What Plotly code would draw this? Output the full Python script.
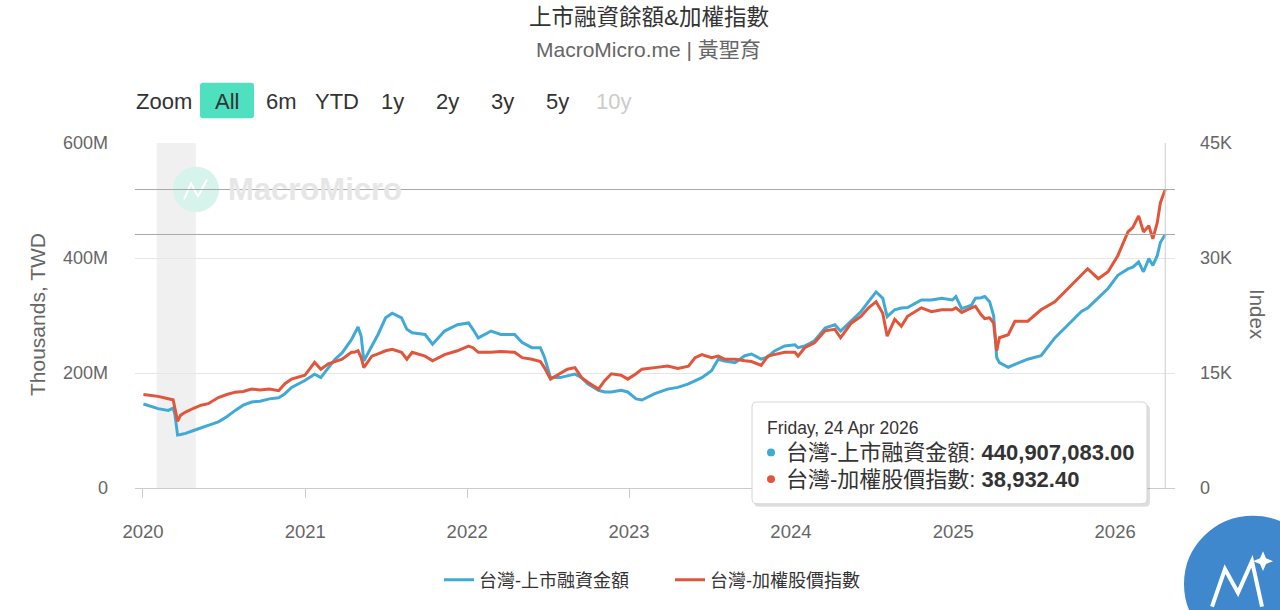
import plotly.graph_objects as go

# ---------------- data ----------------
dates = [
    "2020-01-02", "2020-02-04", "2020-02-27", "2020-03-09", "2020-03-13", "2020-03-19", "2020-03-26",
    "2020-04-06", "2020-04-24", "2020-05-11", "2020-05-27", "2020-06-19", "2020-07-08", "2020-07-27",
    "2020-08-14", "2020-09-02", "2020-09-21", "2020-10-12", "2020-11-02", "2020-11-16", "2020-12-01",
    "2020-12-31",
    "2021-01-22", "2021-02-05", "2021-02-22", "2021-03-09", "2021-03-25", "2021-04-15", "2021-04-21",
    "2021-04-30", "2021-05-07", "2021-05-13", "2021-05-31", "2021-06-14", "2021-07-01", "2021-07-16",
    "2021-08-06", "2021-08-18", "2021-08-30", "2021-09-28", "2021-10-15", "2021-11-11", "2021-12-10",
    "2022-01-04", "2022-01-14", "2022-01-26", "2022-02-24", "2022-03-18", "2022-04-18", "2022-05-05",
    "2022-05-27", "2022-06-15", "2022-06-24", "2022-07-08", "2022-07-29", "2022-08-15", "2022-09-01",
    "2022-09-16", "2022-09-30", "2022-10-24", "2022-11-07", "2022-11-22", "2022-12-14", "2022-12-29",
    "2023-01-17", "2023-01-30", "2023-02-28", "2023-03-29", "2023-04-21", "2023-05-15", "2023-05-30",
    "2023-06-14", "2023-07-06", "2023-07-21", "2023-08-04", "2023-08-28", "2023-09-19", "2023-10-04",
    "2023-10-26", "2023-11-10", "2023-11-24", "2023-12-18",
    "2024-01-10", "2024-01-17", "2024-02-01", "2024-02-23", "2024-03-18", "2024-04-09", "2024-04-22",
    "2024-05-16", "2024-06-07", "2024-06-24", "2024-07-11", "2024-07-26", "2024-08-05", "2024-08-22",
    "2024-09-06", "2024-09-20", "2024-10-21", "2024-11-13", "2024-12-06", "2024-12-30",
    "2025-01-07", "2025-01-20", "2025-02-11", "2025-02-20", "2025-03-05", "2025-03-13", "2025-03-24",
    "2025-04-02", "2025-04-09", "2025-04-15", "2025-05-05", "2025-05-20", "2025-06-18", "2025-07-18",
    "2025-08-18", "2025-09-17", "2025-10-17", "2025-10-31", "2025-11-24", "2025-12-16",
    "2026-01-07", "2026-01-30", "2026-02-10", "2026-02-23", "2026-03-06", "2026-03-18", "2026-03-27",
    "2026-04-06", "2026-04-13", "2026-04-24",
]

# 台灣-上市融資金額, in millions (of thousand TWD)
margin_millions = [
    146, 138, 135, 139, 128, 92, 93, 95, 100, 104, 109, 115, 124, 135, 144, 149.5, 151, 155, 157, 164, 175, 187,
    198, 192, 210, 224, 235, 258, 267, 280, 264, 221, 247, 267, 296, 304, 296, 276, 270, 267, 250, 273, 284,
    287, 276, 261, 273, 267, 267, 253, 244, 244, 228, 192, 192, 195, 198, 192, 181, 170, 167, 167, 170, 167,
    155, 153, 164, 172, 175, 181, 187, 192, 204, 224, 221, 218, 230, 233, 224, 228, 238, 247,
    249, 244, 247, 256, 278, 284, 273, 290, 307, 324, 341, 330, 298, 310, 313, 314, 327, 327, 330, 327,
    333, 312, 318, 330, 331, 333, 324, 300, 227, 218, 210, 215, 224, 230, 261, 284, 307, 313, 330, 347,
    370, 381, 384, 393, 376, 399, 387, 404, 427, 440.907083,
]

# 台灣-加權股價指數
taiex = [
    12200, 11950, 11650, 11500, 10400, 8700, 9500, 9900, 10400, 10800, 11000, 11800, 12200, 12500, 12600,
    12900, 12800, 12900, 12700, 13600, 14200, 14700,
    16400, 15500, 16200, 16500, 16800, 17700, 17700, 17900, 17000, 15700, 17200, 17500, 17900, 18100,
    17700, 16800, 17700, 17200, 16600, 17400, 17900,
    18500, 18300, 17700, 17700, 17800, 17700, 17000, 16800, 16500, 15700, 14200, 14900, 15500, 15700,
    14400, 13800, 12900, 14000, 14900, 14700, 14200,
    14900, 15500, 15700, 15900, 15600, 15900, 17000, 17400, 17000, 17200, 16800, 16800, 16600, 16500,
    16000, 17200, 17400, 17700,
    17700, 17200, 18300, 18950, 20500, 20700, 19600, 21500, 22400, 23500, 24300, 22800, 19800, 22000,
    21100, 22400, 23500, 23000, 23250, 23250,
    23500, 22900, 23500, 23700, 22600, 22100, 22200, 21500, 17900, 19600, 20000, 21750, 21750, 23250,
    24300, 26000, 27800, 28600, 27300, 28200,
    30300, 33400, 34000, 35500, 33400, 34200, 32500, 34600, 37200, 38932.40,
]

margin_values = [v * 1e6 for v in margin_millions]

series_names = ["台灣-上市融資金額", "台灣-加權股價指數"]
left_tickvals = [0, 200e6, 400e6, 600e6]
left_ticktext = ["0", "200M", "400M", "600M"]
right_tickvals = [0, 15000, 30000, 45000]
right_ticktext = ["0", "15K", "30K", "45K"]
range_buttons = ["All", "6m", "YTD", "1y", "2y", "3y", "5y", "10y"]
shade_period = ["2020-02-01", "2020-04-29"]
x_range = ["2019-12-14", "2026-05-16"]

BLUE = "#41a9d6"
RED = "#e1553b"
FONT = "Liberation Sans, Arial, Noto Sans CJK TC, sans-serif"

# plot area in pixels
PL, PR, PT, PB = 135, 1175, 143, 492


def px(x):
    return (x - PL) / (PR - PL)


def py(y):
    return (PB - y) / (PB - PT)


def rrect(x0, y0, x1, y1, r):
    pts = [
        ("M", [(x0 + r, y0)]), ("L", [(x1 - r, y0)]), ("Q", [(x1, y0), (x1, y0 + r)]),
        ("L", [(x1, y1 - r)]), ("Q", [(x1, y1), (x1 - r, y1)]), ("L", [(x0 + r, y1)]),
        ("Q", [(x0, y1), (x0, y1 - r)]), ("L", [(x0, y0 + r)]), ("Q", [(x0, y0), (x0 + r, y0)]),
    ]
    s = ""
    for cmd, ps in pts:
        s += cmd + " " + " ".join(f"{px(a):.5f},{py(b):.5f}" for a, b in ps) + " "
    return s + "Z"


fig = go.Figure()
fig.add_trace(go.Scatter(
    x=dates, y=margin_values, name=series_names[0], mode="lines",
    line=dict(color=BLUE, width=3), yaxis="y",
    hovertemplate="%{x|%A, %d %b %Y}<br>" + series_names[0] + ": <b>%{y:,.2f}</b><extra></extra>",
))
fig.add_trace(go.Scatter(
    x=dates, y=taiex, name=series_names[1], mode="lines",
    line=dict(color=RED, width=3), yaxis="y2",
    hovertemplate="%{x|%A, %d %b %Y}<br>" + series_names[1] + ": <b>%{y:,.2f}</b><extra></extra>",
))

shapes = []
# recession shading
shapes.append(dict(type="rect", xref="x", yref="paper", x0=shade_period[0], x1=shade_period[1],
                   y0=0, y1=1, fillcolor="#f0f0f0", line=dict(width=0), layer="below"))
# watermark circle
shapes.append(dict(type="circle", xref="paper", yref="paper", x0=px(173), x1=px(219), y0=py(213), y1=py(167),
                   fillcolor="#d6f3ec", line=dict(width=0), layer="below"))
shapes.append(dict(type="path", xref="paper", yref="paper", layer="below",
                   path=f"M {px(184)},{py(200)} L {px(191)},{py(184)} L {px(198)},{py(197)} L {px(207)},{py(180)}",
                   line=dict(color="#ffffff", width=2)))
# crosshairs
last_date = dates[-1]
shapes.append(dict(type="line", xref="x", yref="paper", x0=last_date, x1=last_date, y0=0, y1=1,
                   line=dict(color="#cccccc", width=1)))
shapes.append(dict(type="line", xref="paper", yref="y", x0=0, x1=1, y0=margin_values[-1], y1=margin_values[-1],
                   line=dict(color="#a8a8a8", width=1)))
shapes.append(dict(type="line", xref="paper", yref="y2", x0=0, x1=1, y0=taiex[-1], y1=taiex[-1],
                   line=dict(color="#a8a8a8", width=1)))
# range selector "All" highlight
shapes.append(dict(type="path", xref="paper", yref="paper", path=rrect(200, 82, 254, 118, 3),
                   fillcolor="#4fe0c0", line=dict(width=0)))
# tooltip box (shadow + box)
shapes.append(dict(type="path", xref="paper", yref="paper", path=rrect(754, 408, 1150, 511, 5),
                   fillcolor="rgba(0,0,0,0.13)", line=dict(width=0)))
shapes.append(dict(type="path", xref="paper", yref="paper", path=rrect(752, 405, 1147, 508, 5),
                   fillcolor="#ffffff", line=dict(color="#d4d4d4", width=1)))
# tooltip bullets
for cy, col in [(456, BLUE), (483, RED)]:
    shapes.append(dict(type="circle", xref="paper", yref="paper", x0=px(767), x1=px(775),
                       y0=py(cy + 4), y1=py(cy - 4), fillcolor=col, line=dict(width=0)))
# bottom-right logo
shapes.append(dict(type="circle", xref="paper", yref="paper", x0=px(1183), x1=px(1323), y0=py(659), y1=py(519),
                   fillcolor="#3f88cd", line=dict(color="#ffffff", width=2)))
shapes.append(dict(type="path", xref="paper", yref="paper",
                   path=(f"M {px(1212)},{py(612)} L {px(1225)},{py(574)} L {px(1238)},{py(598)} "
                         f"L {px(1252)},{py(566)} L {px(1262)},{py(612)}"),
                   line=dict(color="#ffffff", width=4)))
shapes.append(dict(type="path", xref="paper", yref="paper",
                   path=(f"M {px(1263)},{py(556)} L {px(1266)},{py(563)} L {px(1273)},{py(566)} "
                         f"L {px(1266)},{py(569)} L {px(1263)},{py(576)} L {px(1260)},{py(569)} "
                         f"L {px(1253)},{py(566)} L {px(1260)},{py(563)} Z"),
                   fillcolor="#ffffff", line=dict(width=0)))

annotations = []


def ann(text, x, y, size, color="#333333", xanchor="center", **kw):
    annotations.append(dict(text=text, x=px(x), y=py(y), xref="paper", yref="paper", showarrow=False,
                            xanchor=xanchor, yanchor="middle", font=dict(size=size, color=color, family=FONT), **kw))


ann("上市融資餘額&amp;加權指數", 649, 16, 22.5, "#333333")
ann("MacroMicro.me | 黃聖育", 648, 48, 21, "#666666")
ann("Zoom", 134, 101, 22, "#333333", xanchor="left")
btn_x = [227, 281, 337, 392, 447, 502, 557, 613]
for label, bx in zip(range_buttons, btn_x):
    ann(label, bx, 101, 22, "#cccccc" if label == "10y" else "#333333")
ann("<b>MacroMicro</b>", 226, 190, 31, "#e6e6e6", xanchor="left")
ann("Thousands, TWD", 37, 317, 21, "#666666", textangle=-90)
ann("Index", 1258, 316, 20.5, "#666666", textangle=90)
# tooltip text
ann("Friday, 24 Apr 2026", 765, 431, 17.5, "#333333", xanchor="left")
ann(series_names[0] + ": <b>440,907,083.00</b>", 784, 456, 22, "#333333", xanchor="left")
ann(series_names[1] + ": <b>38,932.40</b>", 784, 483, 22, "#333333", xanchor="left")

fig.update_layout(
    width=1280, height=610, autosize=False,
    margin=dict(l=PL, r=1280 - PR, t=PT, b=610 - PB, pad=0),
    paper_bgcolor="#ffffff", plot_bgcolor="#ffffff",
    font=dict(family=FONT, color="#666666", size=18),
    showlegend=True,
    legend=dict(orientation="h", x=px(439), xanchor="left", y=py(585), yanchor="middle",
                font=dict(size=18, color="#333333", family=FONT), itemwidth=30, entrywidth=186,
                bgcolor="rgba(0,0,0,0)"),
    hovermode="x unified",
    xaxis=dict(type="date", range=x_range, showgrid=False, showline=True, linecolor="#cccccc", linewidth=1,
               ticks="outside", ticklen=9, tickcolor="#cccccc", tickwidth=1,
               dtick="M12", tick0="2020-01-01", tickformat="%Y", ticklabelstandoff=18,
               tickfont=dict(size=18.5, color="#666666"), zeroline=False, fixedrange=False),
    yaxis=dict(range=[0, 600e6], tickvals=left_tickvals, ticktext=left_ticktext, showgrid=True,
               gridcolor="#e6e6e6", gridwidth=1, zeroline=False, showline=False,
               ticklabelstandoff=26, tickfont=dict(size=18, color="#666666")),
    yaxis2=dict(range=[0, 45000], tickvals=right_tickvals, ticktext=right_ticktext, overlaying="y",
                side="right", showgrid=False, zeroline=False, showline=False,
                ticklabelstandoff=24, tickfont=dict(size=18, color="#666666")),
    shapes=shapes,
    annotations=annotations,
)

fig.write_html("out.html", config={"displayModeBar": False})
